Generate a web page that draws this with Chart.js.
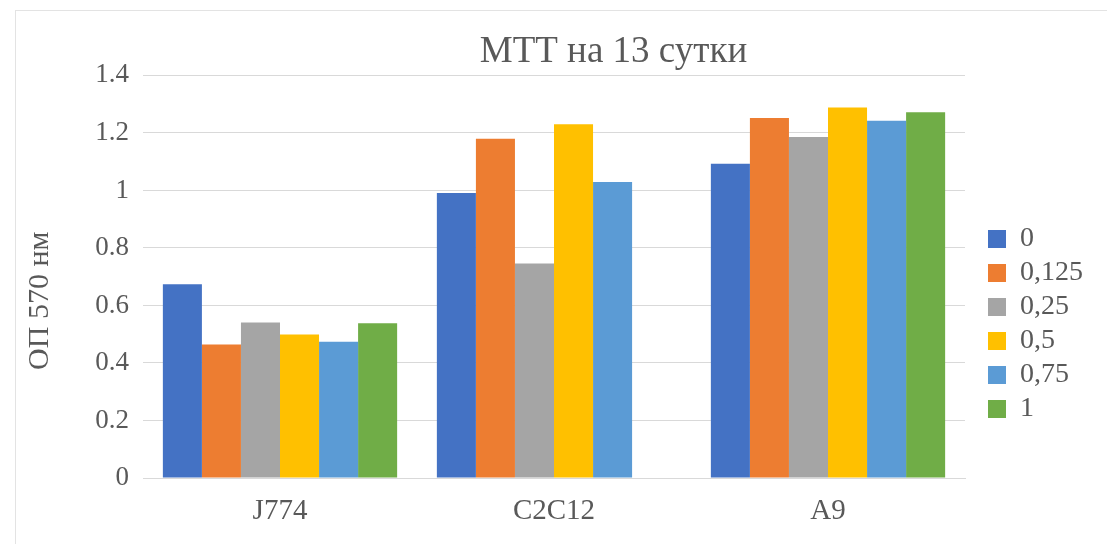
<!DOCTYPE html>
<html>
<head>
<meta charset="utf-8">
<script src="https://cdn.jsdelivr.net/npm/chart.js@4.4.0/dist/chart.umd.min.js"></script>
<style>
html, body { margin: 0; padding: 0; background: #fff; }
#wrap { position: relative; width: 1107px; height: 544px; overflow: hidden; }
#frame { position: absolute; left: 15px; top: 10px; width: 1200px; height: 700px; border: 1px solid #e3e3e3; }
#chart { position: absolute; left: 0; top: 0; }
</style>
</head>
<body>
<div id="wrap">
  <div id="frame"></div>
  <canvas id="chart" width="1107" height="544"></canvas>
</div>
<script>
// data
var categories = ['J774', 'C2C12', 'A9'];
var seriesNames = ['0', '0,125', '0,25', '0,5', '0,75', '1'];
var conc0    = [0.674, 0.991, 1.093];
var conc0125 = [0.464, 1.180, 1.252];
var conc025  = [0.541, 0.746, 1.186];
var conc05   = [0.499, 1.230, 1.288];
var conc075  = [0.474, 1.029, 1.242];
var conc1    = [0.538, null, 1.272];
var yTicks = [0, 0.2, 0.4, 0.6, 0.8, 1, 1.2, 1.4];

var colors = ['#4472C4', '#ED7D31', '#A5A5A5', '#FFC000', '#5B9BD5', '#70AD47'];
var allSeries = [conc0, conc0125, conc025, conc05, conc075, conc1];

Chart.defaults.font.family = '"Liberation Serif", "Times New Roman", serif';
Chart.defaults.color = '#595959';

// Excel puts the chart title right of centre and the axis title a bit lower
var nudge = {
  id: 'nudge',
  afterLayout: function (chart) {
    chart.titleBlock.left = 134;
    chart.scales.y.bottom += 48;
  }
};

var ctx = document.getElementById('chart').getContext('2d');
new Chart(ctx, {
  type: 'bar',
  data: {
    labels: categories,
    datasets: allSeries.map(function (vals, i) {
      return {
        label: seriesNames[i],
        data: vals,
        backgroundColor: colors[i],
        borderWidth: 0,
        barPercentage: 1,
        categoryPercentage: 0.855
      };
    })
  },
  plugins: [nudge],
  options: {
    responsive: false,
    animation: false,
    layout: { padding: { left: 0, right: 14, top: 0, bottom: 0 } },
    plugins: {
      title: {
        display: true,
        text: 'МТТ на 13 сутки',
        color: '#595959',
        font: { size: 37, weight: 'normal' },
        padding: { top: 30, bottom: 1 }
      },
      legend: {
        position: 'right',
        labels: {
          boxWidth: 18,
          boxHeight: 18,
          padding: 6,
          color: '#595959',
          font: { size: 28 }
        },
        // empty title only pushes the items down
        title: { display: true, text: ' ', font: { size: 10 }, padding: { top: 92, bottom: 0 } }
      },
      tooltip: { enabled: false }
    },
    scales: {
      x: {
        grid: { display: false, drawTicks: false },
        border: { color: '#d9d9d9' },
        ticks: { font: { size: 29 }, padding: 16 },
        afterFit: function (s) { s.height = 66; }
      },
      y: {
        min: 0,
        max: 1.4,
        afterBuildTicks: function (s) { s.ticks = yTicks.map(function (v) { return { value: v }; }); },
        ticks: { padding: 14, font: { size: 27 }, callback: function (v) { return String(v); } },
        grid: { color: '#d9d9d9', drawTicks: false },
        border: { display: false },
        title: { display: true, text: 'ОП 570 нм', font: { size: 30 }, padding: { top: 22, bottom: 0 } },
        afterFit: function (s) { s.width = 143; }
      },
      pad: {
        type: 'linear',
        position: 'right',
        grid: { display: false, drawTicks: false },
        ticks: { display: false },
        border: { display: false },
        afterFit: function (s) { s.width = 17; }
      }
    }
  }
});
</script>
</body>
</html>
